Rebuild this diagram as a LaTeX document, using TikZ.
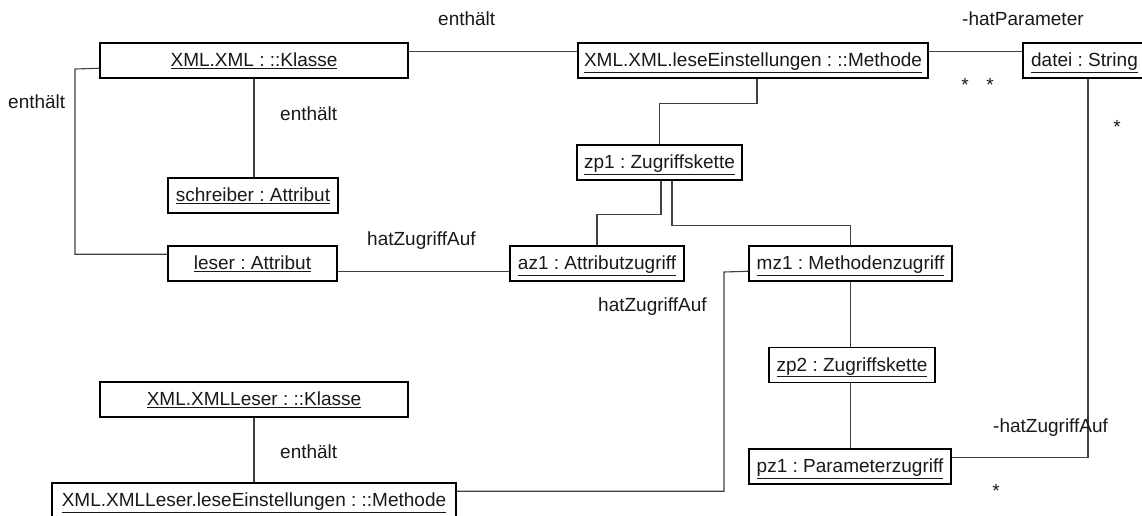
\documentclass[tikz,border=0pt]{standalone}
\usepackage{fontspec}
\setmainfont{Liberation Sans}
\frenchspacing
\tikzset{
  obj/.style={draw=black, line width=1.5pt, fill=white, inner sep=0pt, minimum height=35pt,
    text height=14pt, text depth=2pt, text=black!90, font=\fontsize{19}{22}\selectfont\frenchspacing},
  conn/.style={draw=black!75, line width=1.1pt},
  lbl/.style={inner sep=0pt, anchor=base west, text=black!90, font=\fontsize{19}{22}\selectfont},
  mult/.style={inner sep=0pt, anchor=base, text=black!90, font=\fontsize{19}{22}\selectfont}
}
\newcommand{\ul}[1]{\underline{#1}}
\begin{document}
\begin{tikzpicture}[x=1pt,y=-1pt]
\useasboundingbox (0,0) rectangle (1142,515);
\begin{scope}
\clip (0,0) rectangle (1142,515);
% nodes
\node[obj, minimum width=308pt] (kl1) at (254,60.5) {\ul{XML.XML : ::Klasse}};
\node[obj, minimum width=350pt] (me1) at (753,60.5) {\ul{XML.XML.leseEinstellungen : ::Methode}};
\node[obj, minimum width=123pt] (datei) at (1084.5,60.5) {\ul{datei : String}};
\node[obj, minimum width=165pt] (zp1) at (659.5,162.5) {\ul{zp1 : Zugriffskette}};
\node[obj, minimum width=170pt] (schreiber) at (253,195.5) {\ul{schreiber : Attribut}};
\node[obj, minimum width=169pt] (leser) at (252.5,263.5) {\ul{leser : Attribut}};
\node[obj, minimum width=174pt] (az1) at (597,263.5) {\ul{az1 : Attributzugriff}};
\node[obj, minimum width=203pt] (mz1) at (850.5,263.5) {\ul{mz1 : Methodenzugriff}};
\node[obj, minimum width=166pt] (zp2) at (852,365) {\ul{zp2 : Zugriffskette}};
\node[obj, minimum width=202pt] (pz1) at (850,466.5) {\ul{pz1 : Parameterzugriff}};
\node[obj, minimum width=308pt] (kl2) at (254,399.5) {\ul{XML.XMLLeser : ::Klasse}};
\node[obj, minimum width=404pt] (lm) at (254,500.5) {\ul{XML.XMLLeser.leseEinstellungen : ::Methode}};
% connectors
\draw[conn] ([yshift=-9pt]kl1.north east) -- ([yshift=-9pt]me1.north west);
\draw[conn] ([yshift=-9pt]me1.north east) -- ([yshift=-9pt]datei.north west);
\draw[conn] ([yshift=-26pt]kl1.north west) -- (75,69) |- ([yshift=-9pt]leser.north west);
\draw[conn] (kl1.south) -- (kl1.south |- schreiber.north);
\draw[conn] ([xshift=4pt]me1.south) -- ++(0,25) -| (zp1.north);
\draw[conn] ([xshift=1.5pt]zp1.south) -- ++(0,34) -| (az1.north);
\draw[conn] ([xshift=12.5pt]zp1.south) -- ++(0,45) -| (mz1.north);
\draw[conn] ([yshift=-26pt]leser.north east) -- ([yshift=-26pt]az1.north west);
\draw[conn] ([yshift=-26pt]mz1.north west) -- (724,272) |- ([yshift=-9pt]lm.north east);
\draw[conn] (mz1.south) -- (mz1.south |- zp2.north);
\draw[conn] (mz1.south |- zp2.south) -- (mz1.south |- pz1.north);
\draw[conn] ([xshift=3.5pt]datei.south) |- ([yshift=-9pt]pz1.north east);
\draw[conn] (kl2.south) -- (kl2.south |- lm.north);
% labels
\node[lbl] (l1) at (438,25) {enthält};
\node[lbl] (l2) at (8,108) {enthält};
\node[lbl] (l3) at (280,120) {enthält};
\node[lbl] (l4) at (280,458) {enthält};
\node[lbl] (l5) at (962,25) {-hatParameter};
\node[lbl] (l6) at (367,245) {hatZugriffAuf};
\node[lbl] (l7) at (598,311) {hatZugriffAuf};
\node[lbl] (l8) at (993,432) {-hatZugriffAuf};
\node[mult] (m1) at (965,91) {*};
\node[mult] (m2) at (990,91) {*};
\node[mult] (m3) at (1117,133) {*};
\node[mult] (m4) at (996,497) {*};
\end{scope}
\end{tikzpicture}
\end{document}
